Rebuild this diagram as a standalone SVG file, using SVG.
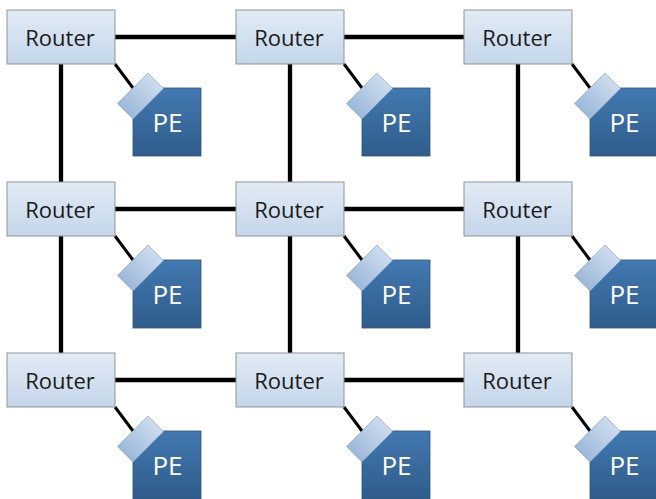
<svg xmlns="http://www.w3.org/2000/svg" width="656" height="499" viewBox="0 0 656 499">
  <defs>
    <linearGradient id="routerFill" x1="0" y1="0" x2="0" y2="1">
      <stop offset="0" stop-color="#e2ebf5"/>
      <stop offset="1" stop-color="#c4d6ea"/>
    </linearGradient>
    <linearGradient id="peFill" x1="0" y1="0" x2="0" y2="1">
      <stop offset="0" stop-color="#4279b1"/>
      <stop offset="1" stop-color="#2f5c8b"/>
    </linearGradient>
    <linearGradient id="portFill" x1="1" y1="0" x2="0" y2="0">
      <stop offset="0" stop-color="#cddcee"/>
      <stop offset="1" stop-color="#9cb8d9"/>
    </linearGradient>
    <!-- processing element: port tab on top of the dark square -->
    <g id="peShape">
      <rect x="0" y="0" width="68" height="68" class="pe"/>
      <rect x="-21.5" y="-11" width="43" height="22" class="port" transform="translate(7.5 8) rotate(-45)"/>
      <text x="34.5" y="43.5" class="peLabel">PE</text>
    </g>
  </defs>
  <style>
    .router { fill: url(#routerFill); stroke: #8f9399; stroke-width: 1; }
    .routerLabel { font-family: "Open Sans", "Liberation Sans", sans-serif; font-size: 22px; fill: #1a1a1a; text-anchor: middle; }
    .pe { fill: url(#peFill); stroke: #2e5580; stroke-width: 0.8; }
    .port { fill: url(#portFill); stroke: #7f9bbd; stroke-width: 0.6; }
    .peLabel { font-family: "Open Sans", "Liberation Sans", sans-serif; font-size: 26px; fill: #ffffff; text-anchor: middle; }
    .link { stroke: #000000; stroke-width: 4.3; stroke-linecap: butt; fill: none; }
    .local { stroke: #000000; stroke-width: 3; fill: none; }
  </style>

  <rect width="656" height="499" fill="#ffffff"/>

  <g id="connectors">
    <!-- horizontal mesh links -->
    <line class="link" x1="115" y1="37" x2="236" y2="37"/>
    <line class="link" x1="344" y1="37" x2="464" y2="37"/>
    <line class="link" x1="115" y1="209" x2="236" y2="209"/>
    <line class="link" x1="344" y1="209" x2="464" y2="209"/>
    <line class="link" x1="115" y1="380" x2="236" y2="380"/>
    <line class="link" x1="344" y1="380" x2="464" y2="380"/>
    <!-- vertical mesh links -->
    <line class="link" x1="61" y1="64" x2="61" y2="182"/>
    <line class="link" x1="61" y1="236" x2="61" y2="353"/>
    <line class="link" x1="290" y1="64" x2="290" y2="182"/>
    <line class="link" x1="290" y1="236" x2="290" y2="353"/>
    <line class="link" x1="518" y1="64" x2="518" y2="182"/>
    <line class="link" x1="518" y1="236" x2="518" y2="353"/>
    <!-- router to PE links -->
    <line class="local" x1="115" y1="64" x2="133" y2="88"/>
    <line class="local" x1="344" y1="64" x2="362" y2="88"/>
    <line class="local" x1="572" y1="64" x2="590" y2="88"/>
    <line class="local" x1="115" y1="236" x2="133" y2="260"/>
    <line class="local" x1="344" y1="236" x2="362" y2="260"/>
    <line class="local" x1="572" y1="236" x2="590" y2="260"/>
    <line class="local" x1="115" y1="407" x2="133" y2="431"/>
    <line class="local" x1="344" y1="407" x2="362" y2="431"/>
    <line class="local" x1="572" y1="407" x2="590" y2="431"/>
  </g>

  <!-- routers -->
  <g id="router-1-1"><rect class="router" x="7" y="10" width="108" height="54"/><text class="routerLabel" x="60" y="45.5">Router</text></g>
  <g id="router-1-2"><rect class="router" x="236" y="10" width="108" height="54"/><text class="routerLabel" x="289" y="45.5">Router</text></g>
  <g id="router-1-3"><rect class="router" x="464" y="10" width="108" height="54"/><text class="routerLabel" x="517" y="45.5">Router</text></g>
  <g id="router-2-1"><rect class="router" x="7" y="182" width="108" height="54"/><text class="routerLabel" x="60" y="217.5">Router</text></g>
  <g id="router-2-2"><rect class="router" x="236" y="182" width="108" height="54"/><text class="routerLabel" x="289" y="217.5">Router</text></g>
  <g id="router-2-3"><rect class="router" x="464" y="182" width="108" height="54"/><text class="routerLabel" x="517" y="217.5">Router</text></g>
  <g id="router-3-1"><rect class="router" x="7" y="353" width="108" height="54"/><text class="routerLabel" x="60" y="388.5">Router</text></g>
  <g id="router-3-2"><rect class="router" x="236" y="353" width="108" height="54"/><text class="routerLabel" x="289" y="388.5">Router</text></g>
  <g id="router-3-3"><rect class="router" x="464" y="353" width="108" height="54"/><text class="routerLabel" x="517" y="388.5">Router</text></g>

  <!-- processing elements -->
  <g id="pe-1-1" transform="translate(133 88)"><use href="#peShape"/></g>
  <g id="pe-1-2" transform="translate(362 88)"><use href="#peShape"/></g>
  <g id="pe-1-3" transform="translate(590 88)"><use href="#peShape"/></g>
  <g id="pe-2-1" transform="translate(133 260)"><use href="#peShape"/></g>
  <g id="pe-2-2" transform="translate(362 260)"><use href="#peShape"/></g>
  <g id="pe-2-3" transform="translate(590 260)"><use href="#peShape"/></g>
  <g id="pe-3-1" transform="translate(133 431)"><use href="#peShape"/></g>
  <g id="pe-3-2" transform="translate(362 431)"><use href="#peShape"/></g>
  <g id="pe-3-3" transform="translate(590 431)"><use href="#peShape"/></g>
</svg>
